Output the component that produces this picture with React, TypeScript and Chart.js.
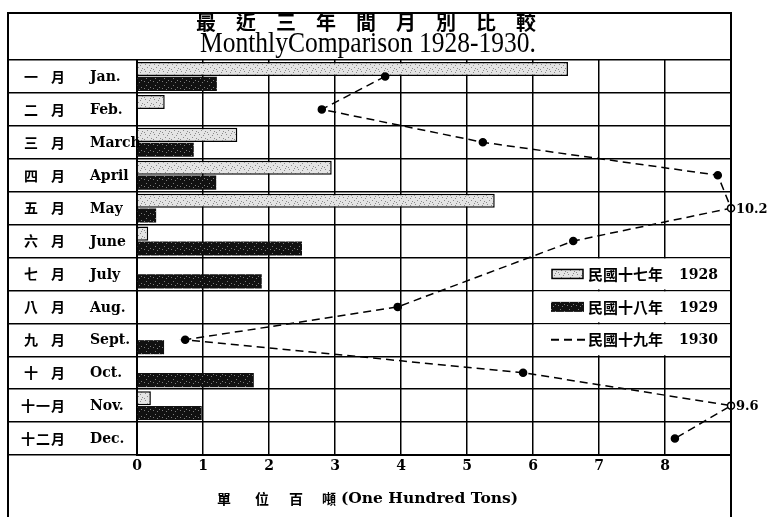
import { useEffect, useRef } from 'react';
import { Chart, registerables } from 'chart.js';

Chart.register(...registerables);

// ---- data ----
const monthsZh = ['一', '二', '三', '四', '五', '六', '七', '八', '九', '十', '十一', '十二'];
const monthsEn = ['Jan.', 'Feb.', 'March', 'April', 'May', 'June', 'July', 'Aug.', 'Sept.', 'Oct.', 'Nov.', 'Dec.'];
const values1928: (number | null)[] = [6.53, 0.42, 1.52, 2.95, 5.42, 0.17, null, null, null, null, 0.21, null];
const values1929: (number | null)[] = [1.21, null, 0.86, 1.2, 0.29, 2.5, 1.89, null, 0.41, 1.77, 0.98, null];
const values1930: (number | null)[] = [3.76, 2.8, 5.24, 8.8, 10.2, 6.61, null, 3.95, 0.73, 5.85, 9.6, 8.15];
const xTickLabels = ['0', '1', '2', '3', '4', '5', '6', '7', '8', ''];
const X_MAX = 9;

const titleZh = ['最', '近', '三', '年', '間', '月', '別', '比', '較'];
const titleEn = 'MonthlyComparison 1928-1930.';
const axisTitleZh = ['單', '位', '百', '噸'];
const axisTitleEn = '(One Hundred Tons)';
const legendItems = [
  { zh: '民國十七年', year: '1928' },
  { zh: '民國十八年', year: '1929' },
  { zh: '民國十九年', year: '1930' },
];

const CJK = '"Noto Sans CJK TC", "Noto Sans CJK SC", sans-serif';
const SERIF = '"DejaVu Serif", serif';

function makePattern(ctx: CanvasRenderingContext2D, bg: string, dot: string, pts: number[][]) {
  const c = document.createElement('canvas');
  c.width = 9;
  c.height = 7;
  const g = c.getContext('2d')!;
  g.fillStyle = bg;
  g.fillRect(0, 0, 9, 7);
  g.fillStyle = dot;
  for (const [x, y] of pts) g.fillRect(x, y, 1, 1);
  return ctx.createPattern(c, 'repeat') as CanvasPattern;
}

function makeDecor(p28: CanvasPattern, p29: CanvasPattern) {
  return {
    id: 'decor',
    beforeDraw(chart: any) {
      const ctx = chart.ctx as CanvasRenderingContext2D;
      ctx.save();
      ctx.fillStyle = '#fff';
      ctx.fillRect(0, 0, chart.width, chart.height);
      ctx.restore();
    },
    afterDraw(chart: any) {
      const ctx = chart.ctx as CanvasRenderingContext2D;
      const { right } = chart.chartArea;
      const ys = chart.scales.y;
      const xs = chart.scales.x;
      ctx.save();
      // frame
      ctx.strokeStyle = '#000';
      ctx.lineWidth = 2;
      ctx.beginPath();
      ctx.moveTo(8, chart.height);
      ctx.lineTo(8, 13);
      ctx.lineTo(right, 13);
      ctx.lineTo(right, chart.height);
      ctx.stroke();

      // title
      ctx.fillStyle = '#000';
      ctx.textBaseline = 'middle';
      ctx.textAlign = 'center';
      ctx.font = `bold 20px ${CJK}`;
      titleZh.forEach((ch, i) => {
        ctx.fillText(ch, 206 + i * 40, 22);
      });
      ctx.save();
      ctx.translate(368, 44);
      ctx.scale(0.88, 1);
      ctx.font = `29px "Liberation Serif", serif`;
      ctx.fillText(titleEn, 0, 0);
      ctx.restore();

      // row labels
      monthsEn.forEach((en, i) => {
        const y = ys.getPixelForValue(i);
        ctx.textAlign = 'center';
        ctx.font = `bold 14px ${CJK}`;
        const zh = monthsZh[i];
        if (zh.length === 1) {
          ctx.fillText(zh, 31, y);
          ctx.fillText('月', 58, y);
        } else {
          ctx.fillText(zh[0], 28, y);
          ctx.fillText(zh[1], 43, y);
          ctx.fillText('月', 58, y);
        }
        ctx.textAlign = 'left';
        ctx.font = `bold 14px ${SERIF}`;
        ctx.fillText(en, 90, y + 1);
      });

      // axis title
      ctx.textAlign = 'center';
      ctx.font = `bold 14px ${CJK}`;
      const axX = [224, 262, 296, 329];
      axisTitleZh.forEach((ch, i) => ctx.fillText(ch, axX[i], 499));
      ctx.textAlign = 'left';
      ctx.font = `bold 15.5px ${SERIF}`;
      ctx.fillText(axisTitleEn, 341, 499);

      // legend box over rows 6..8
      const half = (ys.getPixelForValue(1) - ys.getPixelForValue(0)) / 2;
      const lx = xs.getPixelForValue(6) + 1;
      ctx.fillStyle = '#fff';
      for (let r = 6; r <= 8; r++) {
        const cy = ys.getPixelForValue(r);
        ctx.fillRect(lx, cy - half + 1, right - 1 - lx, half * 2 - 2);
      }
      legendItems.forEach((it, k) => {
        const cy = ys.getPixelForValue(6 + k);
        if (k === 0) {
          ctx.fillStyle = p28;
          ctx.fillRect(552, cy - 4.5, 31, 9);
          ctx.strokeStyle = '#000';
          ctx.lineWidth = 1.5;
          ctx.strokeRect(552, cy - 4.5, 31, 9);
        } else if (k === 1) {
          ctx.fillStyle = p29;
          ctx.fillRect(551, cy - 5, 33, 10);
        } else {
          ctx.strokeStyle = '#000';
          ctx.lineWidth = 2;
          ctx.setLineDash([8, 5]);
          ctx.beginPath();
          ctx.moveTo(551, cy);
          ctx.lineTo(585, cy);
          ctx.stroke();
          ctx.setLineDash([]);
        }
        ctx.fillStyle = '#000';
        ctx.textAlign = 'left';
        ctx.font = `bold 15px ${CJK}`;
        ctx.fillText(it.zh, 588, cy);
        ctx.font = `bold 14px ${SERIF}`;
        ctx.fillText(it.year, 679, cy + 1);
      });

      // clipped value annotations
      ctx.fillStyle = '#000';
      ctx.textAlign = 'left';
      ctx.font = `bold 13px ${SERIF}`;
      values1930.forEach((v, i) => {
        if (v != null && v > X_MAX) {
          ctx.fillText(String(v), right + 5, ys.getPixelForValue(i) + 1);
        }
      });
      ctx.restore();
    },
  };
}

export default function App() {
  const ref = useRef<HTMLCanvasElement>(null);
  useEffect(() => {
    const canvas = ref.current!;
    const ctx = canvas.getContext('2d')!;
    const p28 = makePattern(ctx, '#e4e4e4', '#8a8a8a', [[1, 1], [5, 2], [3, 4], [7, 5], [0, 6], [6, 0]]);
    const p29 = makePattern(ctx, '#111111', '#7c7c7c', [[2, 1], [6, 3], [4, 5], [0, 4]]);
    const chart = new Chart(canvas, {
      type: 'bar',
      data: {
        labels: monthsEn,
        datasets: [
          {
            type: 'line',
            label: '1930',
            data: values1930.map((v) => (v == null ? null : Math.min(v, X_MAX))),
            indexAxis: 'y',
            borderColor: '#000',
            borderWidth: 1.5,
            borderDash: [8, 5],
            spanGaps: true,
            clip: false,
            pointRadius: 3.5,
            pointBorderWidth: 1.5,
            pointBorderColor: '#000',
            pointBackgroundColor: (c: any) =>
              (values1930[c.dataIndex] ?? 0) > X_MAX ? '#fff' : '#000',
            order: 0,
          } as any,
          {
            type: 'bar',
            label: '1928',
            data: values1928,
            backgroundColor: p28,
            borderColor: '#000',
            borderWidth: 1.5,
            order: 1,
          },
          {
            type: 'bar',
            label: '1929',
            data: values1929,
            backgroundColor: p29,
            borderColor: '#000',
            borderWidth: 0,
            order: 1,
          },
        ],
      },
      options: {
        indexAxis: 'y',
        animation: false,
        responsive: false,
        devicePixelRatio: 1,
        layout: { padding: { left: 8, right: 36, top: 60, bottom: 0 } },
        datasets: { bar: { categoryPercentage: 0.9, barPercentage: 0.95 } },
        plugins: { legend: { display: false }, tooltip: { enabled: false } },
        scales: {
          x: {
            type: 'linear',
            min: 0,
            max: X_MAX,
            afterFit: (s: any) => {
              s.height = 62;
            },
            ticks: {
              stepSize: 1,
              padding: 3,
              color: '#000',
              font: { family: 'DejaVu Serif', weight: 'bold', size: 14 },
              callback: (_v: any, i: number) => xTickLabels[i],
            },
            grid: { color: '#000', lineWidth: 1.5, drawTicks: false },
            border: { display: true, color: '#000', width: 2 },
          },
          y: {
            type: 'category',
            offset: true,
            afterFit: (s: any) => {
              s.width = 129;
            },
            ticks: { display: false },
            grid: { offset: true, color: '#000', lineWidth: 1.5, drawTicks: true, tickLength: 129 },
            border: { display: true, color: '#000', width: 2 },
          },
        },
      } as any,
      plugins: [makeDecor(p28, p29)],
    });
    return () => chart.destroy();
  }, []);
  return (
    <div style={{ position: 'fixed', left: 0, top: 0, width: 767, height: 517, background: '#fff' }}>
      <canvas ref={ref} width={767} height={517} style={{ width: 767, height: 517, display: 'block' }} />
    </div>
  );
}
